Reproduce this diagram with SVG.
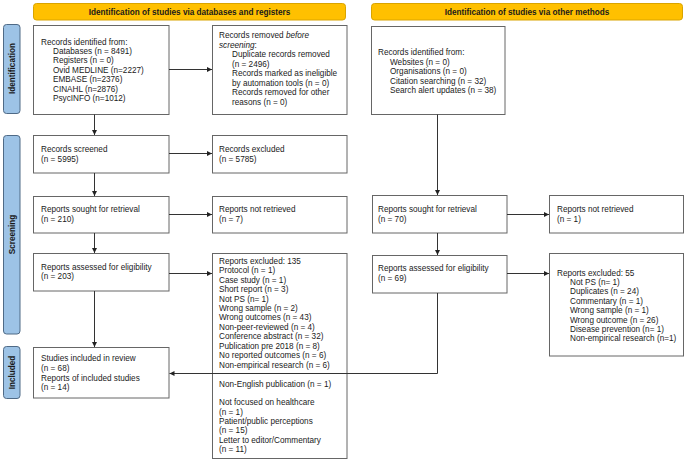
<svg xmlns="http://www.w3.org/2000/svg" width="685" height="461" viewBox="0 0 685 461">
<defs>
<marker id="arr" markerUnits="userSpaceOnUse" markerWidth="6" markerHeight="6" refX="5" refY="2.5" orient="auto">
<path d="M0,0 L5,2.5 L0,5 z" fill="#222"/>
</marker>
<style>
.hdr{fill:#FFC000;stroke:#D9A400;stroke-width:1}
.side{fill:#9DC3E6;stroke:#4F6A86;stroke-width:1}
.box{fill:#fff;stroke:#666;stroke-width:1}
.t{font-family:"Liberation Sans",Arial,sans-serif;font-size:8.2px;fill:#1a1a1a}
.b{font-family:"Liberation Sans",Arial,sans-serif;font-size:8.2px;font-weight:bold;fill:#1a1a1a}
.c{stroke:#333;stroke-width:1;fill:none}
</style>
</defs>
<rect width="685" height="461" fill="#fff"/>

<g id="header-left"><rect class="hdr" x="33.5" y="3.5" width="312" height="16.5" rx="3"/><text class="b" x="189.5" y="14.7" text-anchor="middle">Identification of studies via databases and registers</text></g>
<g id="header-right"><rect class="hdr" x="371.5" y="3.5" width="311" height="16.5" rx="3"/><text class="b" x="527" y="14.7" text-anchor="middle">Identification of studies via other methods</text></g>

<g id="side-identification"><rect class="side" x="3.5" y="24.5" width="16.5" height="89" rx="3"/><text class="b" transform="translate(14.6,68.5) rotate(-90)" text-anchor="middle">Identification</text></g>
<g id="side-screening"><rect class="side" x="3.5" y="135.5" width="16.5" height="198.5" rx="3"/><text class="b" transform="translate(14.6,234.5) rotate(-90)" text-anchor="middle">Screening</text></g>
<g id="side-included"><rect class="side" x="3.5" y="346.5" width="16.5" height="52" rx="3"/><text class="b" transform="translate(14.6,372.5) rotate(-90)" text-anchor="middle">Included</text></g>

<g id="records-identified"><rect class="box" x="33.5" y="25.5" width="135.5" height="89"/>
<text class="t"><tspan x="41" y="44.6">Records identified from:</tspan><tspan x="53" y="54">Databases (n = 8491)</tspan><tspan x="53" y="63.4">Registers (n = 0)</tspan><tspan x="53" y="72.8">Ovid MEDLINE (n=2227)</tspan><tspan x="53" y="82.2">EMBASE (n=2376)</tspan><tspan x="53" y="91.6">CINAHL (n=2876)</tspan><tspan x="53" y="101">PsycINFO (n=1012)</tspan></text></g>

<g id="records-removed"><rect class="box" x="212.5" y="25.5" width="134.5" height="89"/>
<text class="t"><tspan x="219" y="38">Records removed <tspan font-style="italic">before</tspan></tspan><tspan x="219" y="47.5" font-style="italic">screening</tspan><tspan>:</tspan><tspan x="232" y="57">Duplicate records removed</tspan><tspan x="232" y="66.5">(n = 2496)</tspan><tspan x="232" y="76">Records marked as ineligible</tspan><tspan x="232" y="85.5">by automation tools (n = 0)</tspan><tspan x="232" y="95">Records removed for other</tspan><tspan x="232" y="104.5">reasons (n = 0)</tspan></text></g>

<g id="records-identified-other"><rect class="box" x="371.5" y="26.5" width="133.5" height="88"/>
<text class="t"><tspan x="378" y="55">Records identified from:</tspan><tspan x="390" y="64.5">Websites (n = 0)</tspan><tspan x="390" y="74">Organisations (n = 0)</tspan><tspan x="390" y="83.5">Citation searching (n = 32)</tspan><tspan x="390" y="93">Search alert updates (n = 38)</tspan></text></g>

<g id="records-screened"><rect class="box" x="33.5" y="135.5" width="135.5" height="37.5"/>
<text class="t"><tspan x="41" y="152">Records screened</tspan><tspan x="41" y="161.7">(n = 5995)</tspan></text></g>

<g id="records-excluded"><rect class="box" x="212.5" y="135.5" width="134.5" height="37.5"/>
<text class="t"><tspan x="219" y="152">Records excluded</tspan><tspan x="219" y="161.7">(n = 5785)</tspan></text></g>

<g id="reports-sought"><rect class="box" x="33.5" y="196.5" width="135.5" height="36.5"/>
<text class="t"><tspan x="41" y="212">Reports sought for retrieval</tspan><tspan x="41" y="221.6">(n = 210)</tspan></text></g>

<g id="reports-not-retrieved"><rect class="box" x="212.5" y="196.5" width="134.5" height="36.5"/>
<text class="t"><tspan x="219" y="212">Reports not retrieved</tspan><tspan x="219" y="221.6">(n = 7)</tspan></text></g>

<g id="reports-sought-other"><rect class="box" x="372.5" y="195.5" width="134.5" height="37.5"/>
<text class="t"><tspan x="378" y="212">Reports sought for retrieval</tspan><tspan x="378" y="221.8">(n = 70)</tspan></text></g>

<g id="reports-not-retrieved-other"><rect class="box" x="549.5" y="195.5" width="134" height="37.5"/>
<text class="t"><tspan x="557" y="212">Reports not retrieved</tspan><tspan x="557" y="221.8">(n = 1)</tspan></text></g>

<g id="reports-assessed"><rect class="box" x="33.5" y="253.5" width="135.5" height="37.5"/>
<text class="t"><tspan x="41" y="269.7">Reports assessed for eligibility</tspan><tspan x="41" y="279.2">(n = 203)</tspan></text></g>

<g id="reports-excluded"><rect class="box" x="212.5" y="253.5" width="134.5" height="205"/>
<text class="t"><tspan x="219" y="263.7">Reports excluded: 135</tspan><tspan x="219" y="273.15">Protocol (n = 1)</tspan><tspan x="219" y="282.6">Case study (n = 1)</tspan><tspan x="219" y="292.05">Short report (n = 3)</tspan><tspan x="219" y="301.5">Not PS (n= 1)</tspan><tspan x="219" y="310.95">Wrong sample (n = 2)</tspan><tspan x="219" y="320.4">Wrong outcomes (n = 43)</tspan><tspan x="219" y="329.85">Non-peer-reviewed (n = 4)</tspan><tspan x="219" y="339.3">Conference abstract (n = 32)</tspan><tspan x="219" y="348.75">Publication pre 2018 (n = 8)</tspan><tspan x="219" y="358.2">No reported outcomes (n = 6)</tspan><tspan x="219" y="367.65">Non-empirical research (n = 6)</tspan><tspan x="219" y="387">Non-English publication (n = 1)</tspan><tspan x="219" y="405.3">Not focused on healthcare</tspan><tspan x="219" y="414.7">(n = 1)</tspan><tspan x="219" y="424">Patient/public perceptions</tspan><tspan x="219" y="433.3">(n = 15)</tspan><tspan x="219" y="442.6">Letter to editor/Commentary</tspan><tspan x="219" y="452">(n = 11)</tspan></text></g>

<g id="reports-assessed-other"><rect class="box" x="372.5" y="255.5" width="134.5" height="37.5"/>
<text class="t"><tspan x="378" y="271">Reports assessed for eligibility</tspan><tspan x="378" y="280.7">(n = 69)</tspan></text></g>

<g id="reports-excluded-other"><rect class="box" x="549.5" y="253.5" width="134" height="102.5"/>
<text class="t"><tspan x="557" y="275.7">Reports excluded: 55</tspan><tspan x="570" y="285">Not PS (n= 1)</tspan><tspan x="570" y="294.4">Duplicates (n = 24)</tspan><tspan x="570" y="303.8">Commentary (n = 1)</tspan><tspan x="570" y="313.2">Wrong sample (n = 1)</tspan><tspan x="570" y="322.6">Wrong outcome (n = 26)</tspan><tspan x="570" y="332">Disease prevention (n= 1)</tspan><tspan x="570" y="341.4">Non-empirical research (n=1)</tspan></text></g>

<g id="studies-included"><rect class="box" x="33.5" y="347.5" width="135.5" height="50.5"/>
<text class="t"><tspan x="41" y="361.3">Studies included in review</tspan><tspan x="41" y="370.9">(n = 68)</tspan><tspan x="41" y="380.5">Reports of included studies</tspan><tspan x="41" y="390.1">(n = 14)</tspan></text></g>

<g id="connectors">
<path class="c" d="M94.5,114.5 V135" marker-end="url(#arr)"/>
<path class="c" d="M169,69.5 H212" marker-end="url(#arr)"/>
<path class="c" d="M437.5,114.5 V195" marker-end="url(#arr)"/>
<path class="c" d="M169,153.5 H212" marker-end="url(#arr)"/>
<path class="c" d="M94.5,173 V196" marker-end="url(#arr)"/>
<path class="c" d="M169,214.5 H212" marker-end="url(#arr)"/>
<path class="c" d="M507,214.5 H549" marker-end="url(#arr)"/>
<path class="c" d="M94.5,233 V253" marker-end="url(#arr)"/>
<path class="c" d="M437.5,233 V255" marker-end="url(#arr)"/>
<path class="c" d="M169,273.5 H212" marker-end="url(#arr)"/>
<path class="c" d="M507,273.5 H549" marker-end="url(#arr)"/>
<path class="c" d="M94.5,291 V347" marker-end="url(#arr)"/>
<path class="c" d="M437.5,293 V373.5 H169.5" marker-end="url(#arr)"/>
</g>
</svg>
